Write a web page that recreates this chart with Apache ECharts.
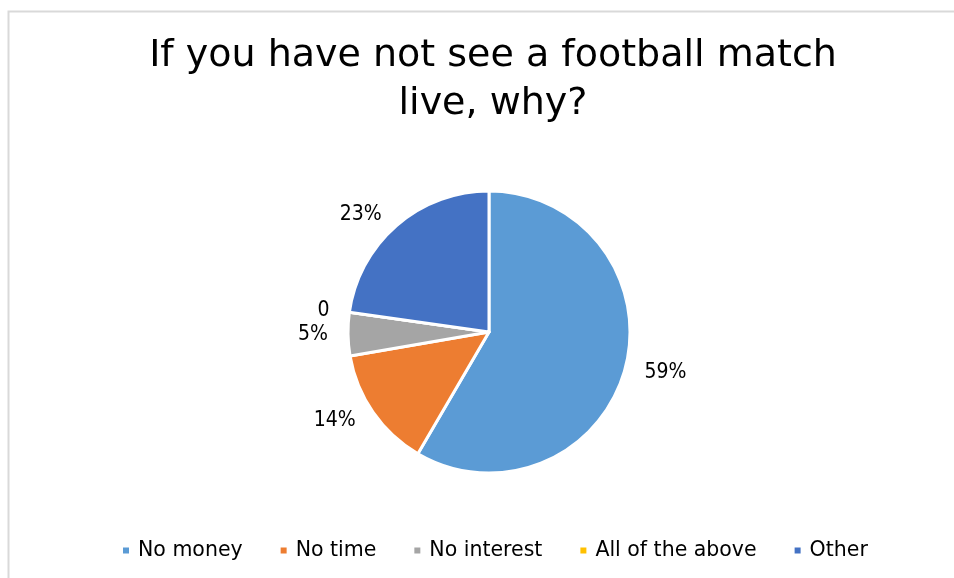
<!DOCTYPE html>
<html>
<head>
<meta charset="utf-8">
<script src="https://cdn.jsdelivr.net/npm/echarts@6/dist/echarts.min.js"></script>
<style>
  html, body { margin: 0; padding: 0; background: #ffffff; }
  #chart { width: 954px; height: 578px; }
</style>
</head>
<body>
<div id="chart"></div>
<script>
// Survey answers and their shares (percent)
const categories = ['No money', 'No time', 'No interest', 'All of the above', 'Other'];
const shares = [59, 14, 5, 0, 23];
const colors = ['#5B9BD5', '#ED7D31', '#A5A5A5', '#FFC000', '#4472C4'];
const titleText = 'If you have not see a football match\nlive, why?';

const chart = echarts.init(document.getElementById('chart'));
const fontFamily = 'DejaVu Sans';
const labelFont = "'Liberation Sans Narrow', 'DejaVu Sans Condensed', 'DejaVu Sans', sans-serif";

chart.setOption({
  animation: false,
  backgroundColor: '#ffffff',
  color: colors,
  // light chart-area frame
  graphic: [{
    type: 'rect',
    shape: { x: 8.5, y: 11.5, width: 1000, height: 700 },
    style: { fill: 'none', stroke: '#d9d9d9', lineWidth: 2 },
    silent: true
  }],
  title: {
    text: titleText,
    left: 488,
    textAlign: 'center',
    top: 27,
    textStyle: {
      fontFamily: fontFamily,
      fontWeight: 'normal',
      fontSize: 38,
      lineHeight: 48,
      color: '#000000'
    }
  },
  legend: {
    bottom: 17,
    left: 121,
    padding: 0,
    itemWidth: 8,
    itemHeight: 8,
    itemGap: 36,
    icon: 'rect',
    textStyle: { fontFamily: fontFamily, fontSize: 20.5, color: '#000000', padding: [0, 0, 0, 3] },
    data: categories
  },
  series: [{
    type: 'pie',
    center: [489, 332],
    radius: [0, 141],
    startAngle: 90,
    clockwise: true,
    avoidLabelOverlap: true,
    itemStyle: { borderColor: '#ffffff', borderWidth: 3 },
    label: {
      show: true,
      position: 'outside',
      fontFamily: labelFont,
      fontSize: 21,
      lineHeight: 20,
      color: '#000000',
      formatter: function (p) { return p.value === 0 ? '0' : p.value + '%'; }
    },
    labelLine: { show: false, length: 15, length2: 0 },
    data: categories.map(function (name, i) { return { name: name, value: shares[i] }; })
  }]
});
</script>
</body>
</html>
